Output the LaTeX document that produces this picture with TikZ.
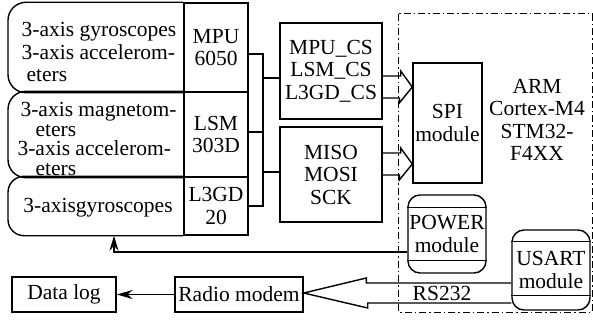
\documentclass[tikz,border=0pt]{standalone}
\usepackage{fontspec}
\setmainfont{Liberation Serif}
\usetikzlibrary{positioning,arrows.meta}

\begin{document}
\begin{tikzpicture}[x=1pt,y=-1pt,line width=1.4pt,
  txt/.style={font=\fontsize{21.5}{22.5}\selectfont,align=center,inner sep=0pt},
  box/.style={txt,draw,rectangle},
  mod/.style={txt,draw,rectangle,rounded corners=12pt,minimum width=78pt}]
\useasboundingbox (0,0) rectangle (593,320);

% sensor chips
\node[box,minimum width=64pt,minimum height=89pt] (mpu) at (216,47.5) {MPU\\6050};
\node[box,minimum width=64pt,minimum height=85pt] (lsm) at (216,134.5) {LSM\\303D};
\node[box,minimum width=64pt,minimum height=58pt] (l3gd) at (216,206) {L3GD\\20};
\draw[rounded corners=18pt] (mpu.north west) -- (mpu.north west -| 8,0) -- (mpu.south west -| 8,0) -- (mpu.south west);
\draw[rounded corners=18pt] (lsm.north west) -- (lsm.north west -| 8,0) -- (lsm.south west -| 8,0) -- (lsm.south west);
\draw[rounded corners=16pt] (l3gd.north west) -- (l3gd.north west -| 8,0) -- (l3gd.south west -| 8,0) -- (l3gd.south west);
\node[txt,align=left] (s1) at (99,52) {3-axis gyroscopes\\3-axis accelerom-\\\hspace*{5pt}eters};
\node[txt,align=left,font=\fontsize{21.5}{19.5}\selectfont] (s2) at (97,139) {\hspace*{3pt}3-axis magnetom-\\\hspace*{18pt}eters\\3-axis accelerom-\\\hspace*{18pt}eters};
\node[txt] (s3) at (98,208) {3-axisgyroscopes};

\node[box,minimum width=102pt,minimum height=96pt] (cs) at (331,71) {MPU\_CS\\LSM\_CS\\L3GD\_CS};
\node[box,minimum width=102pt,minimum height=95pt] (sig) at (331,174.5) {MISO\\MOSI\\SCK};
\draw (mpu.east |- 0,54) -| (263,206) -- (l3gd.east);
\draw (lsm.east |- 0,132) -- (263,132);
\draw (263,78) -- (cs.west |- 0,78);
\draw (263,172) -- (sig.west |- 0,172);

\draw[line width=1pt,dash pattern=on 7pt off 3pt on 1.5pt off 3pt] (398,14) rectangle (592,312);
\node[box,minimum width=69pt,minimum height=120pt] (spi) at (447.5,123) {SPI\\module};
\node[txt] (arm) at (537,120) {ARM\\Cortex-M4\\STM32-\\F4XX};
\draw (cs.east |- 0,76) -- ++(18,0) -- ++(0,-5) -- (spi.west |- 0,87) -- ++(-13,16) -- ++(0,-5) -- (cs.east |- 0,98);
\draw (sig.east |- 0,153) -- ++(18,0) -- ++(0,-5) -- (spi.west |- 0,164) -- ++(-13,16) -- ++(0,-5) -- (sig.east |- 0,175);

\node[mod,minimum height=78pt] (pow) at (447,234) {POWER\\module};
\draw ([yshift=-13pt]pow.north west) -- ([yshift=-13pt]pow.north east);
\draw ([yshift=13pt]pow.south west) -- ([yshift=13pt]pow.south east);
\node[mod,minimum height=80pt] (usart) at (551,270) {USART\\module};
\draw ([yshift=-12pt]usart.north west) -- ([yshift=-12pt]usart.north east);
\draw ([yshift=15pt]usart.south west) -- ([yshift=15pt]usart.south east);
\draw[-{Stealth[length=15pt,width=9pt]}] (pow.west |- 0,252) -| (l3gd.south -| 114,0);

\node[box,minimum width=128pt,minimum height=35pt] (radio) at (239,294.5) {Radio modem};
\node[box,minimum width=104pt,minimum height=35pt] (dlog) at (64,294.5) {Data log};
\draw[-{Stealth[length=16pt,width=9pt]}] (radio) -- (dlog);
\draw (usart.west |- 0,283) -- ++(-145,0) -- ++(0,-5) -- (radio.east |- 0,293) -- ++(64,15) -- ++(0,-5) -- (usart.west |- 0,303);
\node[txt] (rs) at (442,293) {RS232};

\end{tikzpicture}
\end{document}
